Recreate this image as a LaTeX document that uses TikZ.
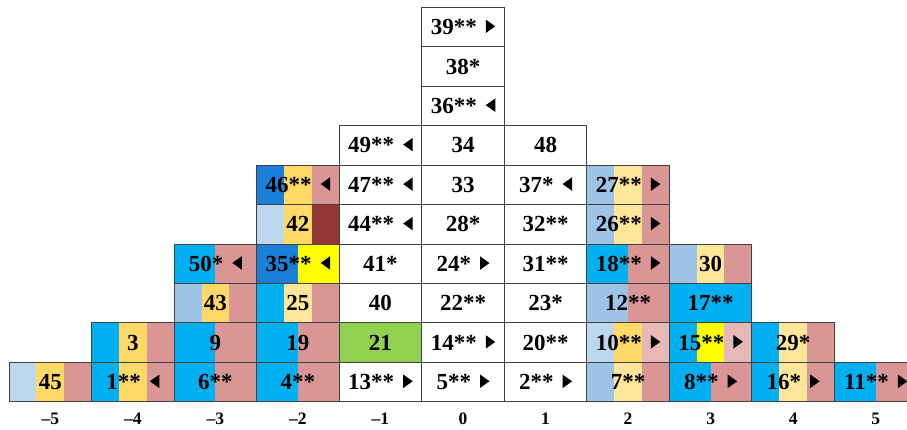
\documentclass[tikz,border=0pt]{standalone}
\usepackage{fontspec}
\setmainfont{Liberation Serif}
\definecolor{cyanX}{HTML}{00B0F0}
\definecolor{roseX}{HTML}{DA9694}
\definecolor{goldX}{HTML}{FFD966}
\definecolor{lyelX}{HTML}{FFE699}
\definecolor{lblueX}{HTML}{BDD7EE}
\definecolor{mblueX}{HTML}{9DC3E6}
\definecolor{dblueX}{HTML}{1A7FD8}
\definecolor{yelX}{HTML}{FFFF00}
\definecolor{lpinkX}{HTML}{E6B8B7}
\definecolor{greenX}{HTML}{92D050}
\definecolor{dredX}{HTML}{953735}
\definecolor{gridX}{HTML}{404040}
\newcommand\cellfont{\fontsize{23}{23}\selectfont\bfseries}
\newcommand\labfont{\fontsize{17.5}{17.5}\selectfont\bfseries}
\newcommand\rtri{\hspace{9pt}\tikz[baseline=0pt,x=1pt,y=1pt]\fill (0,1.5)--(0,15)--(9.5,8.25)--cycle;}
\newcommand\ltri{\hspace{9pt}\tikz[baseline=0pt,x=1pt,y=1pt]\fill (9.5,1.5)--(9.5,15)--(0,8.25)--cycle;}
\tikzset{
  cellbox/.style={draw=gridX, line width=0.9pt, minimum width=82.55pt, minimum height=39.44pt, inner sep=0pt, font=\cellfont, anchor=center},
  axislab/.style={font=\labfont, inner sep=0pt, anchor=center}
}
% stripe helpers (use \cx,\cy)
\newcommand\one[1]{\fill[#1] (\cx-41.275,\cy-19.72) rectangle ++(82.55,39.44);}
\newcommand\two[2]{\fill[#1] (\cx-41.275,\cy-19.72) rectangle ++(41.275,39.44);
  \fill[#2] (\cx,\cy-19.72) rectangle ++(41.275,39.44);}
\newcommand\three[3]{\fill[#1] (\cx-41.275,\cy-19.72) rectangle ++(27.517,39.44);
  \fill[#2] (\cx-13.758,\cy-19.72) rectangle ++(27.517,39.44);
  \fill[#3] (\cx+13.758,\cy-19.72) rectangle ++(27.517,39.44);}
\newcommand\none{}
% #1 name, #2 col, #3 row, #4 stripes, #5 text
\newcommand\mkcell[5]{%
  \pgfmathsetmacro\cx{463+82.55*(#2)}%
  \pgfmathsetmacro\cy{382-39.44*(#3)}%
  #4
  \node[cellbox] (#1) at (\cx,\cy) {#5};}
\begin{document}
\begin{tikzpicture}[x=1pt,y=-1pt]
\useasboundingbox (0,0) rectangle (907,429);
\clip (0,0) rectangle (907,429);
% row 0
\mkcell{n45}{-5}{0}{\three{lblueX}{goldX}{roseX}}{45}
\mkcell{n1}{-4}{0}{\three{cyanX}{goldX}{roseX}}{1**\ltri}
\mkcell{n6}{-3}{0}{\two{cyanX}{roseX}}{6**}
\mkcell{n4}{-2}{0}{\two{cyanX}{roseX}}{4**}
\mkcell{n13}{-1}{0}{\none}{13**\rtri}
\mkcell{n5}{0}{0}{\none}{5**\rtri}
\mkcell{n2}{1}{0}{\none}{2**\rtri}
\mkcell{n7}{2}{0}{\three{mblueX}{lyelX}{roseX}}{7**}
\mkcell{n8}{3}{0}{\two{cyanX}{roseX}}{8**\rtri}
\mkcell{n16}{4}{0}{\three{cyanX}{lyelX}{roseX}}{16*\rtri}
\mkcell{n11}{5}{0}{\two{cyanX}{roseX}}{11**\rtri}
% row 1
\mkcell{n3}{-4}{1}{\three{cyanX}{goldX}{roseX}}{3}
\mkcell{n9}{-3}{1}{\two{cyanX}{roseX}}{9}
\mkcell{n19}{-2}{1}{\two{cyanX}{roseX}}{19}
\mkcell{n21}{-1}{1}{\one{greenX}}{21}
\mkcell{n14}{0}{1}{\none}{14**\rtri}
\mkcell{n20}{1}{1}{\none}{20**}
\mkcell{n10}{2}{1}{\three{lblueX}{goldX}{lpinkX}}{10**\rtri}
\mkcell{n15}{3}{1}{\three{cyanX}{yelX}{lpinkX}}{15**\rtri}
\mkcell{n29}{4}{1}{\three{cyanX}{lyelX}{roseX}}{29*}
% row 2
\mkcell{n43}{-3}{2}{\three{mblueX}{goldX}{roseX}}{43}
\mkcell{n25}{-2}{2}{\three{cyanX}{lyelX}{roseX}}{25}
\mkcell{n40}{-1}{2}{\none}{40}
\mkcell{n22}{0}{2}{\none}{22**}
\mkcell{n23}{1}{2}{\none}{23*}
\mkcell{n12}{2}{2}{\two{mblueX}{roseX}}{12**}
\mkcell{n17}{3}{2}{\one{cyanX}}{17**}
% row 3
\mkcell{n50}{-3}{3}{\two{cyanX}{roseX}}{50*\ltri}
\mkcell{n35}{-2}{3}{\two{dblueX}{yelX}}{35**\ltri}
\mkcell{n41}{-1}{3}{\none}{41*}
\mkcell{n24}{0}{3}{\none}{24*\rtri}
\mkcell{n31}{1}{3}{\none}{31**}
\mkcell{n18}{2}{3}{\two{cyanX}{roseX}}{18**\rtri}
\mkcell{n30}{3}{3}{\three{mblueX}{lyelX}{roseX}}{30}
% row 4
\mkcell{n42}{-2}{4}{\three{lblueX}{goldX}{dredX}}{42}
\mkcell{n44}{-1}{4}{\none}{44**\ltri}
\mkcell{n28}{0}{4}{\none}{28*}
\mkcell{n32}{1}{4}{\none}{32**}
\mkcell{n26}{2}{4}{\three{mblueX}{lyelX}{roseX}}{26**\rtri}
% row 5
\mkcell{n46}{-2}{5}{\three{dblueX}{goldX}{roseX}}{46**\ltri}
\mkcell{n47}{-1}{5}{\none}{47**\ltri}
\mkcell{n33}{0}{5}{\none}{33}
\mkcell{n37}{1}{5}{\none}{37*\ltri}
\mkcell{n27}{2}{5}{\three{mblueX}{lyelX}{roseX}}{27**\rtri}
% rows 6-9
\mkcell{n49}{-1}{6}{\none}{49**\ltri}
\mkcell{n34}{0}{6}{\none}{34}
\mkcell{n48}{1}{6}{\none}{48}
\mkcell{n36}{0}{7}{\none}{36**\ltri}
\mkcell{n38}{0}{8}{\none}{38*}
\mkcell{n39}{0}{9}{\none}{39**\rtri}
% axis labels
\foreach \c/\t in {-5/–5,-4/–4,-3/–3,-2/–2,-1/–1,0/0,1/1,2/2,3/3,4/4,5/5}
  \node[axislab] (lab\c) at (463+82.55*\c,419) {\t};
\end{tikzpicture}
\end{document}
